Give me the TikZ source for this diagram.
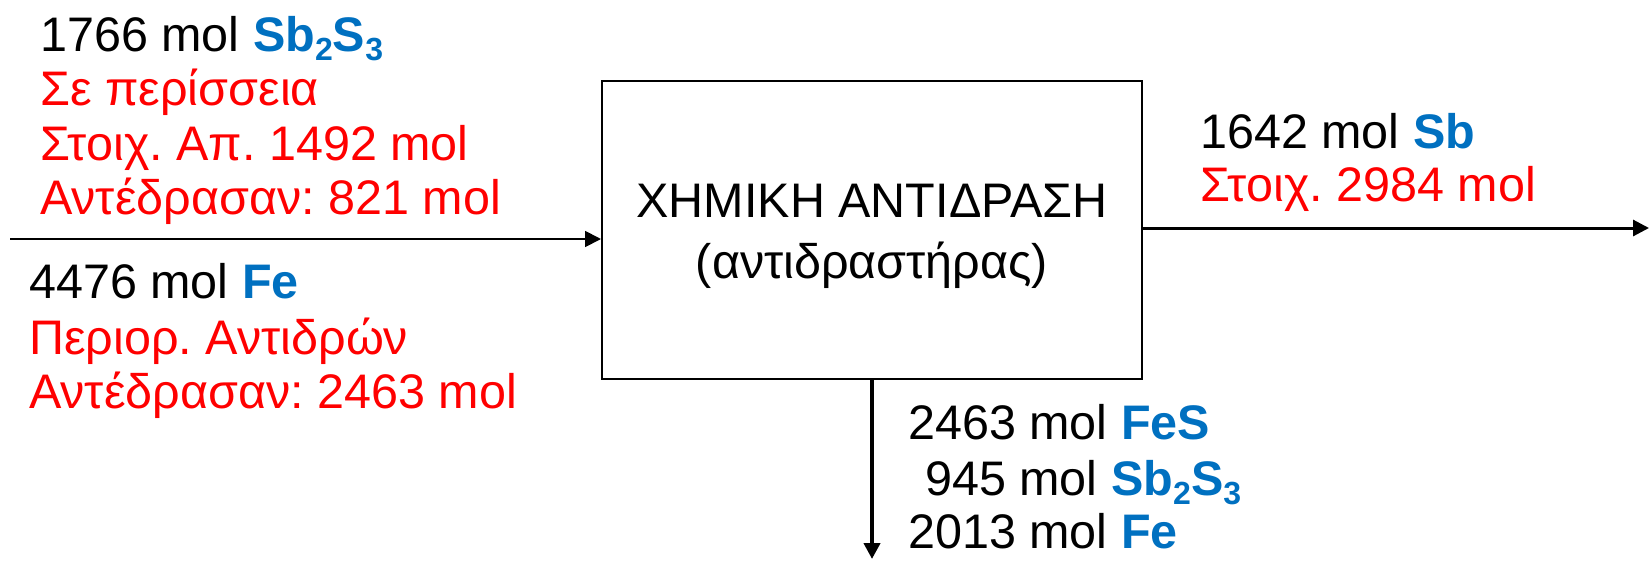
\documentclass[tikz,border=0pt]{standalone}
\usepackage{fontspec}
\setmainfont{Liberation Sans}
\usetikzlibrary{arrows.meta}
\definecolor{chemblue}{RGB}{0,112,192}
\definecolor{chemred}{RGB}{255,0,0}
\newcommand{\chem}[1]{\textbf{\textcolor{chemblue}{#1}}}
\newcommand{\subn}[1]{\raisebox{-0.2em}{\fontsize{32}{32}\selectfont #1}}
\frenchspacing
\begin{document}
\begin{tikzpicture}[x=1pt,y=-1pt,
  txt/.style={inner sep=0pt,anchor=base west,font=\fontsize{48.5}{58}\selectfont},
  redtxt/.style={txt,text=chemred},
  reactor/.style={draw,line width=2pt,minimum width=540pt,minimum height=298pt,inner sep=0pt},
  flow/.style={-{Triangle[length=16pt,width=16pt]}}]
\useasboundingbox (0,0) rectangle (1651,560);
% reactor box
\node[reactor] (box) at (872,230) {};
\node[txt,anchor=base] (t1) at (872,217) {ΧΗΜΙΚΗ ΑΝΤΙΔΡΑΣΗ};
\node[txt,anchor=base] (t2) at (872,278) {(αντιδραστήρας)};
% input labels
\node[txt] (a1) at (40,51) {1766 mol \chem{Sb\subn{2}S\subn{3}}};
\node[redtxt] (a2) at (40,105) {Σε περίσσεια};
\node[redtxt] (a3) at (40,160) {Στοιχ. Απ. 1492 mol};
\node[redtxt] (a4) at (40,214) {Αντέδρασαν: 821 mol};
\node[txt] (b1) at (29,298) {4476 mol \chem{Fe}};
\node[redtxt] (b2) at (29,354) {Περιορ. Αντιδρών};
\node[redtxt] (b3) at (29,408) {Αντέδρασαν: 2463 mol};
% output labels
\node[txt] (c1) at (1200,148) {1642 mol \chem{Sb}};
\node[redtxt] (c2) at (1200,201) {Στοιχ. 2984 mol};
\node[txt] (d1) at (908,439) {2463 mol \chem{FeS}};
\node[txt] (d2) at (925,495) {945 mol \chem{Sb\subn{2}S\subn{3}}};
\node[txt] (d3) at (908,548) {2013 mol \chem{Fe}};
% connectors
\coordinate (in) at (10,239);
\coordinate (out1) at (1649,228);
\coordinate (out2) at (872,559);
\draw[flow,line width=1.8pt] (in) -- (in -| box.west);
\draw[flow,line width=3pt] (box.east |- out1) -- (out1);
\draw[flow,line width=4.5pt] (box.south) -- (out2);
\end{tikzpicture}
\end{document}
